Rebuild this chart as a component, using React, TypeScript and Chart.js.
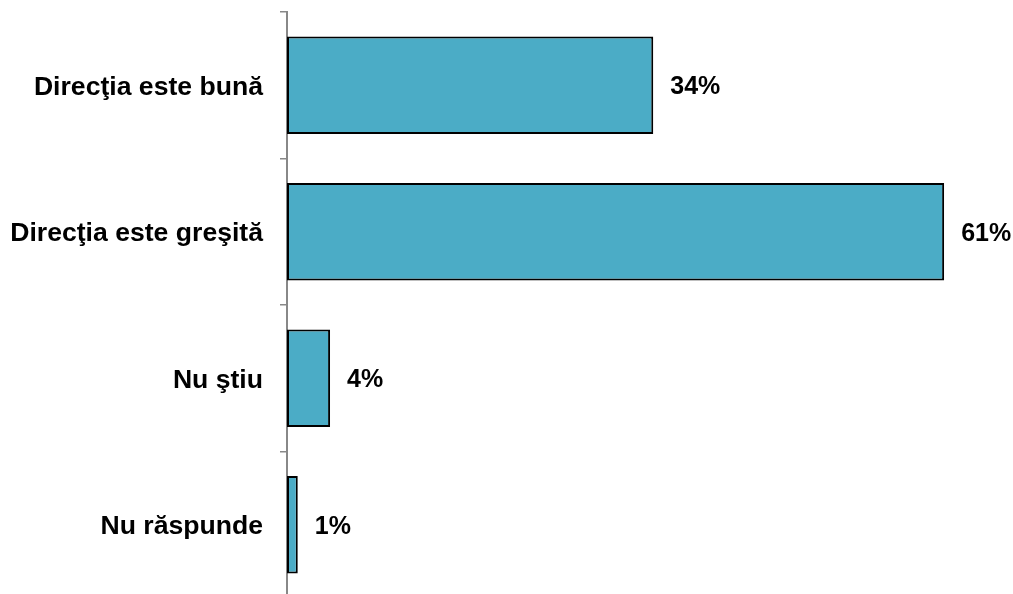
import React, { useEffect, useRef } from "react";
import { Chart, registerables } from "chart.js";

Chart.register(...registerables);

const categories = ["Direcţia este bună", "Direcţia este greşită", "Nu ştiu", "Nu răspunde"];
const values = [34, 61, 4, 1];
const valueLabels = ["34%", "61%", "4%", "1%"];

const FONT = "'Liberation Sans', Arial, sans-serif";

const dataLabelPlugin = {
  id: "dataLabels",
  afterDatasetsDraw(chart: any) {
    const ctx = chart.ctx;
    const meta = chart.getDatasetMeta(0);
    ctx.save();
    ctx.font = `bold 25px ${FONT}`;
    ctx.fillStyle = "#000";
    ctx.textAlign = "left";
    ctx.textBaseline = "middle";
    meta.data.forEach((bar: any, i: number) => {
      ctx.fillText(valueLabels[i], bar.x + 17, bar.y + 2);
    });
    ctx.restore();
  },
};

export default function App() {
  const ref = useRef<HTMLCanvasElement | null>(null);
  useEffect(() => {
    if (!ref.current) return;
    const chart = new Chart(ref.current, {
      type: "bar",
      data: {
        labels: categories,
        datasets: [
          {
            data: values,
            backgroundColor: "#4BACC6",
            borderColor: "#000000",
            borderWidth: 2,
            borderSkipped: false,
            categoryPercentage: 1,
            barPercentage: 0.665,
          },
        ],
      },
      options: {
        indexAxis: "y",
        responsive: false,
        maintainAspectRatio: false,
        animation: false,
        layout: { padding: { top: 12, bottom: 2, right: 15, left: 0 } },
        plugins: { legend: { display: false }, tooltip: { enabled: false } },
        scales: {
          x: { display: false, min: 0, max: 66 },
          y: {
            afterFit(scale: any) {
              scale.width = 287;
              scale.paddingTop = 0;
              scale.paddingBottom = 0;
            },
            border: { display: true, color: "#888888", width: 2 },
            grid: {
              drawOnChartArea: false,
              drawTicks: true,
              tickLength: 7,
              color: "#888888",
              lineWidth: 1.5,
              offset: true,
            },
            ticks: {
              color: "#000",
              padding: 17,
              labelOffset: 2,
              font: { family: FONT, size: 26.6, weight: "bold" },
            },
          },
        },
      },
      plugins: [dataLabelPlugin],
    } as any);
    return () => chart.destroy();
  }, []);
  return (
    <div style={{ position: "fixed", left: 0, top: 0, width: 1013, height: 594, overflow: "hidden", background: "#fff" }}>
      <canvas ref={ref} width={1013} height={600} style={{ display: "block" }} />
    </div>
  );
}
